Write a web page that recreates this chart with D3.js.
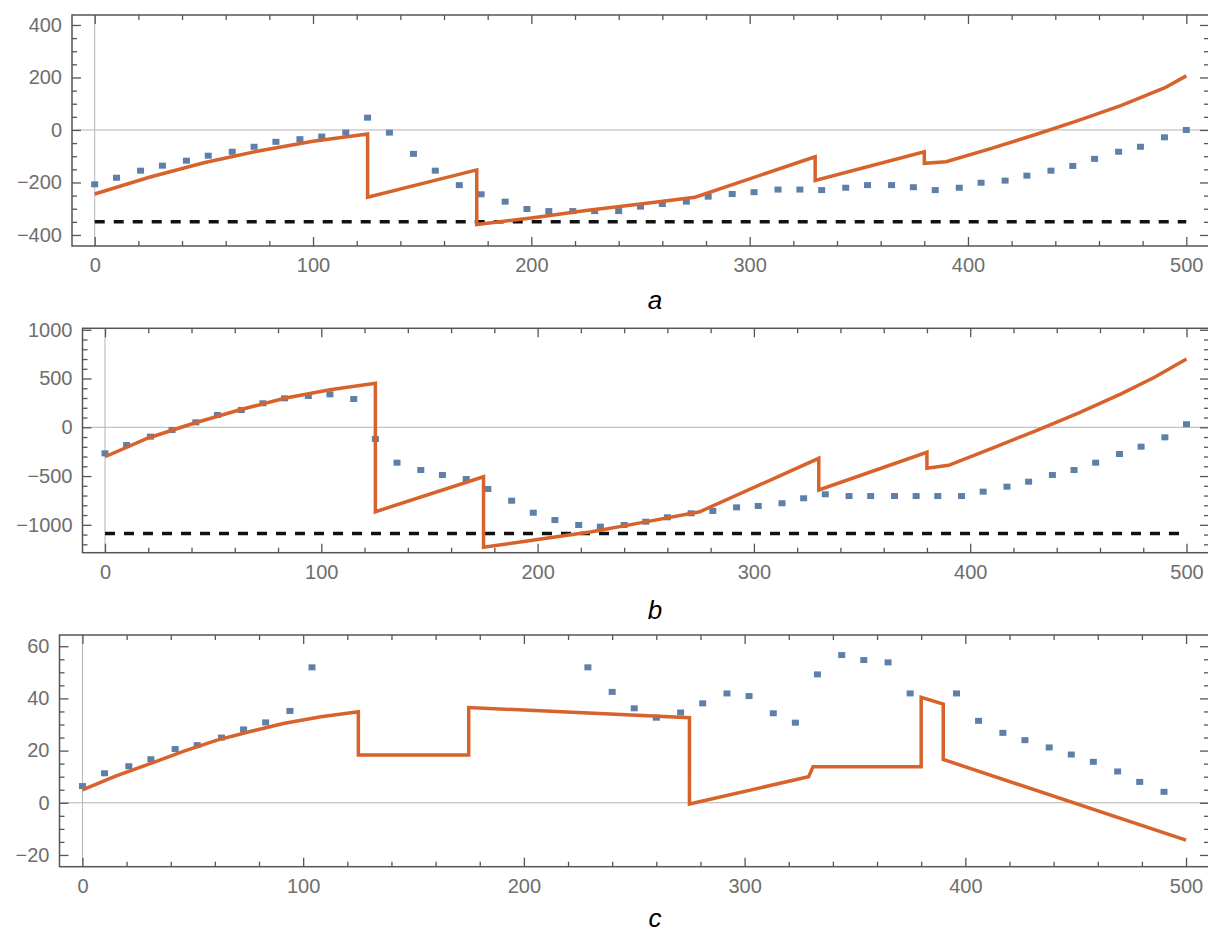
<!DOCTYPE html>
<html>
<head>
<meta charset="utf-8">
<script src="https://d3js.org/d3.v7.min.js"></script>
<style>
  body { margin: 0; background: #fff; }
  svg { display: block; }
</style>
</head>
<body>
<div id="chart"></div>
<script>
// x positions of the sampled points (shared by all three panels)
const dotX = [0, 10, 21, 31, 42, 52, 63, 73, 83, 94, 104, 115, 125, 135, 146, 156, 167, 177, 188, 198,
  208, 219, 229, 240, 250, 260, 271, 281, 292, 302, 313, 323, 333, 344, 354, 365, 375, 385, 396, 406,
  417, 427, 438, 448, 458, 469, 479, 490, 500];

// panel a
const aDots = [-207, -182, -155, -136, -117, -98, -83, -64, -45, -35, -25, -10, 47, -10, -91, -155, -210, -245,
  -273, -301, -309, -309, -309, -309, -292, -282, -273, -254, -244, -237, -227, -227, -229, -220, -210, -210,
  -218, -229, -220, -201, -193, -174, -155, -137, -110, -83, -64, -28, 0];
const aLineX = [0, 25, 50, 75, 100, 125, 125, 175, 175, 200, 225, 250, 275, 330, 330, 380, 380, 390, 410, 430, 450, 470, 490, 500];
const aLineY = [-244, -180, -125, -80, -43, -15, -256, -152, -360, -335, -307, -282, -256, -102, -192, -83, -127, -121, -72, -20, 35, 93, 160, 206];
const aLevel = -350;

// panel b
const bDots = [-267, -182, -96, -28, 51, 126, 177, 246, 297, 321, 338, 290, -120, -363,
  -438, -489, -530, -633, -753, -876, -951, -1002, -1019, -1002, -968, -923, -882, -858, -821, -807, -779,
  -728, -687, -705, -705, -705, -705, -705, -705, -660, -609, -558, -489, -438, -363, -274, -199, -103, 31];
const bLineX = [0, 20, 41, 62, 83, 104, 125, 125, 175, 175, 200, 225, 250, 275, 330, 330, 380, 380, 390, 410, 430, 450, 470, 485, 500];
const bLineY = [-302, -110, 41, 177, 297, 385, 451, -866, -507, -1230, -1150, -1071, -970, -866, -318, -643, -256, -421, -390, -215, -40, 145, 345, 510, 700];
const bLevel = -1090;

// panel c (null = point outside the plot range)
const cDots = [6.4, 11.3, 14, 16.7, 20.6, 22.1, 25, 28.1, 30.8, 35.2, 51.9,
  null, null, null, null, null, null, null, null, null, null, null,
  51.9, 42.5, 36.2, 32.6, 34.6, 38.1, 41.9, 40.9, 34.3, 30.7, 49.2, 56.6, 54.7, 53.8,
  41.9, null, 41.9, 31.4, 26.8, 24, 21.2, 18.5, 15.7, 12, 8, 4.2, null];
const cLineX = [0, 15, 31, 46, 61, 76, 91, 108, 125, 125, 175, 175, 275, 275, 329, 331, 380, 380, 390, 390, 500];
const cLineY = [4.9, 10.2, 15.1, 19.8, 24, 27.3, 30.4, 33, 34.9, 18.3, 18.3, 36.5, 32.6, -0.5, 10, 13.8, 13.8, 40.4, 37.8, 16.6, -14.3];

const xMajor = [0, 100, 200, 300, 400, 500];
const panelLabels = ['a', 'b', 'c'];

const W = 1208, H = 935;
const orange = '#d8622b', blue = '#5e7fa8';

const panels = [
  { left: 72, top: 15, bottom: 246, yDomain: [-442, 438], yMajor: d3.range(-400, 401, 200), yStep: 50,
    dots: aDots, lineX: aLineX, lineY: aLineY, level: aLevel, labelY: 309 },
  { left: 82.5, top: 328.3, bottom: 552.7, yDomain: [-1286, 1015], yMajor: d3.range(-1000, 1001, 500), yStep: 100,
    dots: bDots, lineX: bLineX, lineY: bLineY, level: bLevel, labelY: 619 },
  { left: 59.5, top: 635, bottom: 866.7, yDomain: [-24.5, 64.3], yMajor: d3.range(-20, 61, 20), yStep: 5,
    dots: cDots, lineX: cLineX, lineY: cLineY, level: null, labelY: 927 }
];

const svg = d3.select('#chart').append('svg').attr('width', W).attr('height', H);

panels.forEach((p, i) => {
  const right = 1209;
  const x = d3.scaleLinear().domain([-10.4, 510.4]).range([p.left, right]);
  const y = d3.scaleLinear().domain(p.yDomain).range([p.bottom, p.top]);
  const g = svg.append('g');

  const yMinor = d3.range(Math.ceil(p.yDomain[0] / p.yStep) * p.yStep, p.yDomain[1], p.yStep)
    .filter(v => !p.yMajor.includes(v));
  const xMinor = d3.range(0, 501, 20).filter(v => !xMajor.includes(v));

  // zero axes
  g.append('line').attr('x1', p.left).attr('x2', right).attr('y1', y(0)).attr('y2', y(0))
    .attr('stroke', '#b4b4b4').attr('stroke-width', 1);
  g.append('line').attr('x1', x(0)).attr('x2', x(0)).attr('y1', p.top).attr('y2', p.bottom)
    .attr('stroke', '#b4b4b4').attr('stroke-width', 1);

  const fmt = d3.format('d');
  const styleAxis = sel => {
    sel.select('.domain').remove();
    sel.selectAll('line').attr('stroke', '#555').attr('stroke-width', 1.3);
    sel.selectAll('text').attr('fill', '#6e6e6e').style('font-family', 'Liberation Sans, Arial, sans-serif').style('font-size', '20px');
  };

  // bottom + top
  g.append('g').attr('transform', `translate(0,${p.bottom})`)
    .call(d3.axisBottom(x).tickValues(xMajor).tickSize(-9).tickPadding(12).tickFormat(fmt)).call(styleAxis);
  g.append('g').attr('transform', `translate(0,${p.bottom})`)
    .call(d3.axisBottom(x).tickValues(xMinor).tickSize(-5).tickFormat('')).call(styleAxis);
  g.append('g').attr('transform', `translate(0,${p.top})`)
    .call(d3.axisTop(x).tickValues(xMajor).tickSize(-9).tickFormat('')).call(styleAxis);
  g.append('g').attr('transform', `translate(0,${p.top})`)
    .call(d3.axisTop(x).tickValues(xMinor).tickSize(-5).tickFormat('')).call(styleAxis);

  // left + right
  g.append('g').attr('transform', `translate(${p.left},0)`)
    .call(d3.axisLeft(y).tickValues(p.yMajor).tickSize(-9).tickPadding(10).tickFormat(fmt)).call(styleAxis);
  g.append('g').attr('transform', `translate(${p.left},0)`)
    .call(d3.axisLeft(y).tickValues(yMinor).tickSize(-5).tickFormat('')).call(styleAxis);
  g.append('g').attr('transform', `translate(${right},0)`)
    .call(d3.axisRight(y).tickValues(p.yMajor).tickSize(-9).tickFormat('')).call(styleAxis);
  g.append('g').attr('transform', `translate(${right},0)`)
    .call(d3.axisRight(y).tickValues(yMinor).tickSize(-5).tickFormat('')).call(styleAxis);

  // frame
  g.append('rect').attr('x', p.left).attr('y', p.top).attr('width', right - p.left).attr('height', p.bottom - p.top)
    .attr('fill', 'none').attr('stroke', '#555').attr('stroke-width', 1.5);

  // dashed level
  if (p.level !== null) {
    g.append('line').attr('x1', x(0)).attr('x2', x(500)).attr('y1', y(p.level)).attr('y2', y(p.level))
      .attr('stroke', '#111').attr('stroke-width', 3.5).attr('stroke-dasharray', '10,9');
  }

  // sampled points
  const pts = dotX.map((d, k) => ({ x: d, y: p.dots[k] })).filter(d => d.y !== null);
  g.selectAll('rect.dot').data(pts).enter().append('rect').attr('class', 'dot')
    .attr('x', d => x(d.x) - 3.5).attr('y', d => y(d.y) - 3)
    .attr('width', 7).attr('height', 6).attr('fill', blue);

  // piecewise curve
  const line = d3.line().x(d => x(d[0])).y(d => y(d[1]));
  g.append('path').datum(p.lineX.map((v, k) => [v, p.lineY[k]]))
    .attr('d', line).attr('fill', 'none').attr('stroke', orange).attr('stroke-width', 3.5)
    .attr('stroke-linejoin', 'miter');

  // panel letter
  svg.append('text').attr('x', 655).attr('y', p.labelY).attr('text-anchor', 'middle')
    .style('font-family', 'Liberation Sans, Arial, sans-serif').style('font-style', 'italic').style('font-size', '26px')
    .text(panelLabels[i]);
});
</script>
</body>
</html>
